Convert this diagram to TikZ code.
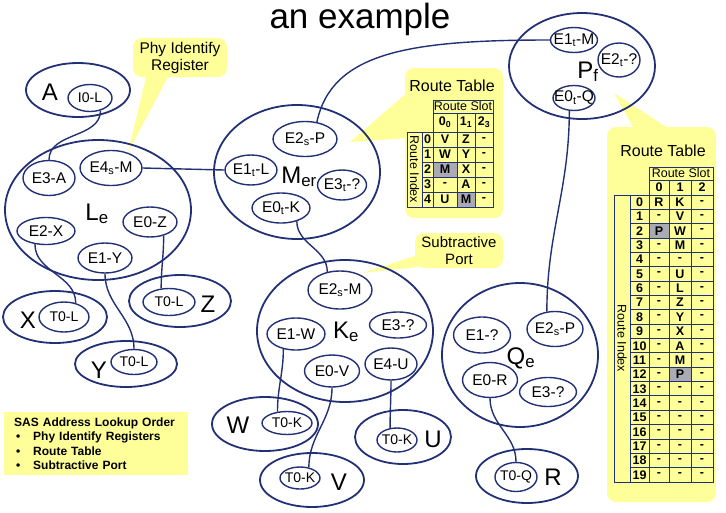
\documentclass[tikz,border=0pt]{standalone}
\usepackage{fontspec}
\setmainfont{Liberation Sans}
\usetikzlibrary{shapes.geometric}
\definecolor{navy}{RGB}{34,48,118}
\definecolor{notefill}{RGB}{255,255,153}
\definecolor{hit}{RGB}{170,170,180}

\begin{document}
\begin{tikzpicture}[x=1pt,y=-1pt]
\tikzstyle{every node}=[font=\fontsize{15.5}{17}\selectfont]
\tikzstyle{expander}=[ellipse, draw=navy, line width=1.8pt, inner sep=0pt]
\tikzset{phy/.style 2 args={ellipse, draw=navy, line width=1.4pt, inner sep=-15pt, minimum width=#1, minimum height=#2},
         tphy/.style 2 args={phy={#1}{#2}, font=\fontsize{14}{16}\selectfont}}
\tikzstyle{devname}=[font=\fontsize{24}{28}\selectfont, anchor=base, inner sep=0pt]
\tikzstyle{link}=[draw=navy, line width=1.4pt]
\tikzstyle{note}=[fill=notefill, rounded corners=9pt]
\tikzstyle{tgrid}=[draw=navy, line width=0.9pt]
\tikzstyle{cell}=[font=\bfseries\fontsize{12.5}{13}\selectfont, inner sep=0pt]
\tikzstyle{head}=[font=\fontsize{12.5}{14}\selectfont, inner sep=0pt]
\useasboundingbox (0,0) rectangle (726,512);

\node[font=\fontsize{35}{40}\selectfont, anchor=base] (title) at (360,28) {an example};

% yellow notes
\coordinate (phytip) at (128,152);
\node[note, minimum width=94pt, minimum height=39pt, align=center] (phynote) at (180,57.5) {Phy Identify\\Register};
\fill[notefill] ([xshift=-33pt,yshift=4pt]phynote.south) -- (phytip) -- ([xshift=-10pt,yshift=4pt]phynote.south) -- cycle;

\coordinate (rt1tip) at (350,142);
\node[note, minimum width=98pt, minimum height=150pt] (rt1) at (454,143) {};
\fill[notefill] ([xshift=3pt,yshift=51pt]rt1.west) -- (rt1tip) -- ([xshift=3pt,yshift=5pt]rt1.west) -- cycle;
\node[font=\fontsize{16}{18}\selectfont, anchor=base] (rt1title) at (452,91) {Route Table};

\coordinate (rt2tip) at (614,93);
\node[note, minimum width=109pt, minimum height=375pt] (rt2) at (661.5,314.5) {};
\fill[notefill] ([xshift=-26.5pt,yshift=-4pt]rt2.north) -- (rt2tip) -- ([xshift=10.5pt,yshift=-4pt]rt2.north) -- cycle;
\node[font=\fontsize{16}{18}\selectfont, anchor=base] (rt2title) at (663,156) {Route Table};

\coordinate (subtip) at (362,273);
\node[note, minimum width=88pt, minimum height=35pt, align=center, font=\fontsize{15}{17}\selectfont] (subnote) at (459,250.5) {Subtractive\\Port};
\fill[notefill] ([xshift=3pt,yshift=-4.5pt]subnote.west) -- (subtip) -- ([xshift=3pt,yshift=-16.5pt]subnote.west) -- cycle;

\node[fill=notefill, anchor=north west, minimum width=184pt, minimum height=63pt, text width=164pt, inner xsep=10pt, align=left, font=\bfseries\fontsize{12}{14.5}\selectfont] (order) at (4,412)
  {SAS Address Lookup Order\\
   \hspace*{2pt}\makebox[17pt][l]{\textbullet}Phy Identify Registers\\
   \hspace*{2pt}\makebox[17pt][l]{\textbullet}Route Table\\
   \hspace*{2pt}\makebox[17pt][l]{\textbullet}Subtractive Port};

% route table of M
\fill[hit] (433,162) rectangle (457,177);
\fill[hit] (457,192) rectangle (475,207);
\draw[tgrid] (433,100) rectangle (493,207);
\draw[tgrid] (433,113) -- (493,113);
\foreach \x in {457,475} \draw[tgrid] (\x,113) -- (\x,207);
\foreach \r in {0,...,5} \draw[tgrid] (422,{132+15*\r}) -- (493,{132+15*\r});
\draw[tgrid] (407,132) rectangle (433,207);
\draw[tgrid] (422,132) -- (422,207);
\node[head] (rt1slot) at (463,106.5) {Route Slot};
\node[cell] (rt1h0) at (445,122.5) {0\textsubscript{0}};
\node[cell] (rt1h1) at (466,122.5) {1\textsubscript{1}};
\node[cell] (rt1h2) at (484,122.5) {2\textsubscript{3}};
\node[head, rotate=-90] (rt1idx) at (414.5,169.5) {Route Index};
\foreach \a/\b [count=\r from 0] in {V/Z,W/Y,M/X,-/A,U/M} {
  \node[cell] (rt1-\r) at (427.5,{139.5+15*\r}) {\r};
  \node[cell] (rt1-\r-0) at (445,{139.5+15*\r}) {\a};
  \node[cell] (rt1-\r-1) at (466,{139.5+15*\r}) {\b};
  \node[cell] (rt1-\r-2) at (484,{139.5+15*\r}) {-};
}

% route table of P
\fill[hit] (649,223.7) rectangle (669,238.05);
\fill[hit] (669,367.2) rectangle (691,381.55);
\draw[tgrid] (649,167) rectangle (713,482);
\draw[tgrid] (649,180) -- (713,180);
\foreach \x in {669,691} \draw[tgrid] (\x,180) -- (\x,482);
\foreach \r in {0,...,20} \draw[tgrid] (630,{195+14.35*\r}) -- (713,{195+14.35*\r});
\draw[tgrid] (614,195) rectangle (649,482);
\draw[tgrid] (630,195) -- (630,482);
\node[head] (rt2slot) at (681,173.5) {Route Slot};
\node[cell] (rt2h0) at (659,187.5) {0};
\node[cell] (rt2h1) at (680,187.5) {1};
\node[cell] (rt2h2) at (702,187.5) {2};
\node[head, rotate=-90] (rt2idx) at (622,338.5) {Route Index};
\foreach \a/\b [count=\r from 0] in {R/K,-/V,P/W,-/M,-/-,-/U,-/L,-/Z,-/Y,-/X,-/A,-/M,-/P,-/-,-/-,-/-,-/-,-/-,-/-,-/-} {
  \node[cell] (rt2-\r) at (639.5,{202.2+14.35*\r}) {\r};
  \node[cell] (rt2-\r-0) at (659,{202.2+14.35*\r}) {\a};
  \node[cell] (rt2-\r-1) at (680,{202.2+14.35*\r}) {\b};
  \node[cell] (rt2-\r-2) at (702,{202.2+14.35*\r}) {-};
}

% A
\node[expander, minimum width=104pt, minimum height=54pt] (A) at (78,90) {};
\node[devname] (Aname) at (50,100) {A};
\node[tphy={44pt}{27pt}] (i0l) at (90,98) {I0-L};

% L
\node[expander, minimum width=186pt, minimum height=140pt] (Le) at (98,210) {};
\node[devname] (Lename) at (97,220) {L\textsubscript{e}};
\node[phy={52pt}{35pt}] (e3a) at (49,178) {E3-A};
\node[phy={62pt}{35pt}] (e4m) at (111,168) {E4\textsubscript{s}-M};
\node[phy={54pt}{30pt}] (e0z) at (150,222) {E0-Z};
\node[phy={58pt}{27pt}] (e2x) at (46,231) {E2-X};
\node[phy={54pt}{30pt}] (e1y) at (105,258) {E1-Y};

% X, Z, Y
\node[expander, minimum width=104pt, minimum height=52pt] (X) at (55,317) {};
\node[devname] (Xname) at (28,328) {X};
\node[tphy={50pt}{30pt}] (xt0) at (64,317) {T0-L};
\node[expander, minimum width=102pt, minimum height=52pt] (Z) at (180,301) {};
\node[devname] (Zname) at (208,312) {Z};
\node[tphy={52pt}{27pt}] (zt0) at (169,302) {T0-L};
\node[expander, minimum width=102pt, minimum height=46pt] (Y) at (126,364) {};
\node[devname] (Yname) at (99,378) {Y};
\node[tphy={46pt}{25pt}] (yt0) at (134,362) {T0-L};

% M
\node[expander, minimum width=166pt, minimum height=134pt] (Mer) at (297,172) {};
\node[devname] (Mername) at (299,183) {M\textsubscript{er}};
\node[phy={64pt}{35pt}] (e2p) at (305,139) {E2\textsubscript{s}-P};
\node[phy={52pt}{30pt}] (e1l) at (251,170) {E1\textsubscript{t}-L};
\node[phy={49pt}{30pt}] (e3m) at (342,185) {E3\textsubscript{t}-?};
\node[phy={58pt}{30pt}] (e0k) at (281,208) {E0\textsubscript{t}-K};

% P
\node[expander, minimum width=146pt, minimum height=106pt] (Pf) at (582,66) {};
\node[devname] (Pfname) at (588,78) {P\textsubscript{f}};
\node[phy={47pt}{25pt}] (e1m) at (574,40) {E1\textsubscript{t}-M};
\node[phy={42pt}{34pt}] (e2p2) at (619,60) {E2\textsubscript{t}-?};
\node[phy={42pt}{25pt}] (e0q) at (574,98) {E0\textsubscript{t}-Q};

% K
\node[expander, minimum width=176pt, minimum height=142pt] (Ke) at (345,331) {};
\node[devname] (Kename) at (346,338) {K\textsubscript{e}};
\node[phy={64pt}{38pt}] (e2m) at (340,290) {E2\textsubscript{s}-M};
\node[phy={58pt}{32pt}] (e1w) at (296,334) {E1-W};
\node[phy={57pt}{26pt}] (e3k) at (398,325) {E3-?};
\node[phy={55pt}{32pt}] (e0v) at (332,371) {E0-V};
\node[phy={52pt}{32pt}] (e4u) at (391,364) {E4-U};

% W, V, U
\node[expander, minimum width=106pt, minimum height=54pt] (W) at (265,424) {};
\node[devname] (Wname) at (238,433) {W};
\node[tphy={50pt}{23pt}] (wt0) at (287,423) {T0-K};
\node[expander, minimum width=104pt, minimum height=54pt] (V) at (312,480) {};
\node[devname] (Vname) at (339,490) {V};
\node[tphy={40pt}{22pt}] (vt0) at (300,478) {T0-K};
\node[expander, minimum width=96pt, minimum height=54pt] (U) at (403,437) {};
\node[devname] (Uname) at (433,447) {U};
\node[tphy={40pt}{24pt}] (ut0) at (397,440) {T0-K};

% Q
\node[expander, minimum width=156pt, minimum height=144pt] (Qe) at (520,355) {};
\node[devname] (Qename) at (521,364) {Q\textsubscript{e}};
\node[phy={57pt}{36pt}] (e1q) at (482,335) {E1-?};
\node[phy={56pt}{35pt}] (e2q) at (555,329) {E2\textsubscript{s}-P};
\node[phy={55pt}{35pt}] (e0r) at (490,380) {E0-R};
\node[phy={57pt}{29pt}] (e3q) at (548,392) {E3-?};

% R
\node[expander, minimum width=102pt, minimum height=54pt] (R) at (527,476) {};
\node[devname] (Rname) at (553,485) {R};
\node[tphy={42pt}{29pt}] (rt0) at (516,477) {T0-Q};

% links
\draw[link] (i0l.-50) to[out=-90,in=90] (e3a.north);
\draw[link] (e4m.east) -- (e1l.west);
\draw[link] (e2x.-130) to[out=-90,in=90] (xt0.50);
\draw[link] (e0z.-45) to[out=-90,in=90] (zt0.120);
\draw[link] (e1y.south) to[out=-90,in=90] (yt0.north);
\draw[link] (e2p.55) .. controls +(15,-70) and +(-140,0) .. (e1m.west);
\draw[link] (e0k.-40) to[out=-90,in=90] (e2m.125);
\draw[link] (e0q.-110) to[out=-90,in=90] (e2q.115);
\draw[link] (e1w.-130) to[out=-90,in=90] (wt0.130);
\draw[link] (e0v.south) to[out=-90,in=90] (vt0.50);
\draw[link] (e4u.south) to[out=-90,in=90] (ut0.120);
\draw[link] (e0r.south) to[out=-90,in=90] (rt0.north);
\end{tikzpicture}
\end{document}
